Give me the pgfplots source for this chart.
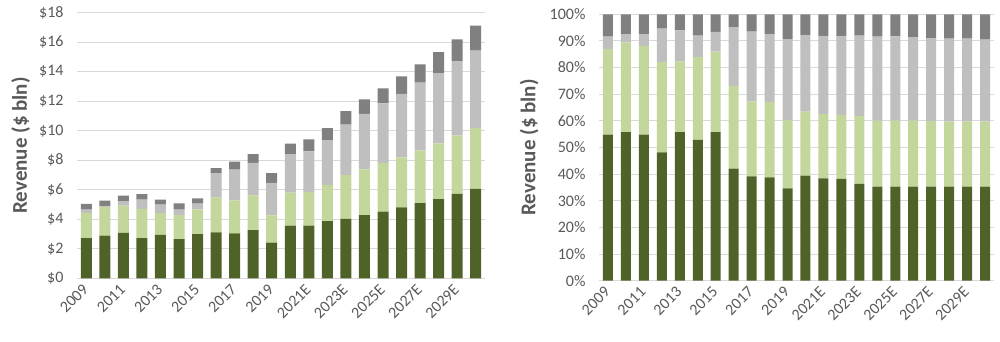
\documentclass[border=0pt]{standalone}
\usepackage{fontspec}
\setmainfont{Carlito}
\usepackage{pgfplots}
\pgfplotsset{compat=1.18}
\usepackage{pgfplotstable}
\definecolor{dgreen}{HTML}{4F6228}
\definecolor{lgreen}{HTML}{C3D69B}
\definecolor{lgray}{HTML}{BFBFBF}
\definecolor{dgray}{HTML}{808080}
\definecolor{txt}{HTML}{595959}
\definecolor{gridc}{HTML}{D9D9D9}

\pgfplotstableread{
x a b c d
0 2.73 1.70 0.23 0.39
1 2.89 1.95 0.07 0.36
2 3.07 1.86 0.30 0.38
3 2.73 1.97 0.64 0.36
4 2.95 1.46 0.59 0.34
5 2.65 1.65 0.36 0.42
6 3.00 1.67 0.39 0.36
7 3.12 2.37 1.64 0.34
8 3.05 2.23 2.08 0.54
9 3.27 2.35 2.21 0.59
10 2.42 1.85 2.19 0.67
11 3.57 2.24 2.61 0.70
12 3.57 2.29 2.74 0.81
13 3.87 2.46 3.04 0.81
14 4.03 2.96 3.42 0.92
15 4.28 3.10 3.77 0.98
16 4.52 3.29 4.05 1.01
17 4.80 3.39 4.30 1.20
18 5.09 3.58 4.59 1.24
19 5.36 3.78 4.77 1.41
20 5.72 3.96 5.03 1.49
21 6.06 4.14 5.23 1.70
}\revtab

\pgfplotstableread{
x a b c d
0 54.8 32.2 4.6 8.4
1 55.8 33.7 3.1 7.4
2 54.8 33.3 4.5 7.4
3 48.2 33.8 12.6 5.4
4 55.8 26.4 11.8 6.0
5 52.9 31.0 8.1 8.0
6 55.8 30.2 7.4 6.6
7 42.1 31.0 22.1 4.8
8 39.2 28.1 26.2 6.5
9 38.8 28.3 25.5 7.4
10 34.7 25.5 30.5 9.3
11 39.4 24.1 28.7 7.8
12 38.4 24.2 29.3 8.1
13 38.2 24.0 29.5 8.3
14 36.3 25.5 30.2 8.0
15 35.3 24.8 31.5 8.4
16 35.3 24.8 31.6 8.3
17 35.3 24.8 31.3 8.6
18 35.3 24.6 31.2 8.9
19 35.3 24.4 31.2 9.1
20 35.3 24.4 31.2 9.1
21 35.3 24.4 30.8 9.5
}\sharetab

\pgfplotsset{
 mystyle/.style={
  scale only axis, ybar stacked,
  xmin=-0.5, xmax=21.5, ymin=0, enlargelimits=false,
  xtick={0,2,...,20},
  xticklabels={2009,2011,2013,2015,2017,2019,2021E,2023E,2025E,2027E,2029E},
  axis x line*=bottom, axis y line*=left,
  y axis line style={draw=none},
  x axis line style={-, draw=gridc, line width=1pt},
  major tick length=0pt,
  ymajorgrids, major grid style={draw=gridc, line width=1pt},
  tick label style={font=\fontsize{16}{19}\selectfont, text=txt},
  xticklabel style={yshift=-8pt, rotate=45, anchor=east, inner sep=1pt},
  yticklabel style={anchor=east, xshift=-10pt},
  ylabel style={font=\fontsize{21}{24}\selectfont\bfseries, text=txt, anchor=center},
  ylabel={Revenue (\$ bln)},
 }
}

\begin{document}
\begin{tikzpicture}
\path[use as bounding box] (0,0) rectangle (1000pt,342pt);
\begin{axis}[mystyle, at={(77pt,63.7pt)}, anchor=south west,
  width=408pt, height=265.6pt, bar width=11pt,
  ymax=18, ytick={0,2,...,18},
  yticklabels={\$0,\$2,\$4,\$6,\$8,\$10,\$12,\$14,\$16,\$18},
  ylabel style={at={(axis description cs:-0.138,0.5)}}]
\addplot[fill=dgreen, draw=none] table[x=x,y=a]{\revtab};
\addplot[fill=lgreen, draw=none] table[x=x,y=b]{\revtab};
\addplot[fill=lgray, draw=none] table[x=x,y=c]{\revtab};
\addplot[fill=dgray, draw=none] table[x=x,y=d]{\revtab};
\end{axis}
\begin{axis}[mystyle, at={(599pt,61.3pt)}, anchor=south west,
  width=395pt, height=266.4pt, bar width=10pt,
  ymax=100, ytick={0,10,...,100},
  yticklabels={0\%,10\%,20\%,30\%,40\%,50\%,60\%,70\%,80\%,90\%,100\%},
  ylabel style={at={(axis description cs:-0.177,0.5)}}]
\addplot[fill=dgreen, draw=none] table[x=x,y=a]{\sharetab};
\addplot[fill=lgreen, draw=none] table[x=x,y=b]{\sharetab};
\addplot[fill=lgray, draw=none] table[x=x,y=c]{\sharetab};
\addplot[fill=dgray, draw=none] table[x=x,y=d]{\sharetab};
\end{axis}
\end{tikzpicture}
\end{document}
